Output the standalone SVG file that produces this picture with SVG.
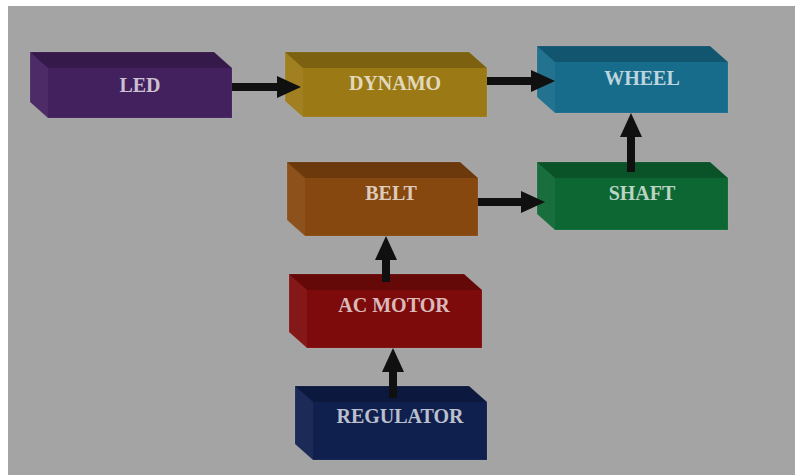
<svg xmlns="http://www.w3.org/2000/svg" width="795" height="475" viewBox="0 0 795 475">
<defs>
<style>
.top{fill:#000;opacity:0.2}
.side{fill:#fff;opacity:0.05}
.edge{fill:none;stroke:#fff;stroke-opacity:0.08;stroke-width:1}
.lbl{font-family:"Liberation Serif","Times New Roman",serif;font-weight:bold;font-size:20px;fill:#fff;fill-opacity:0.72;text-anchor:middle}
.conn{stroke:#101010;stroke-width:8;fill:none;marker-end:url(#ah)}
</style>
<marker id="ah" markerUnits="userSpaceOnUse" markerWidth="24" markerHeight="24" refX="0" refY="12" orient="auto" viewBox="0 0 24 24">
<path d="M0,1 L24,12 L0,23 Z" fill="#101010"/>
</marker>
</defs>
<rect x="0" y="0" width="795" height="475" fill="#ffffff"/>
<rect x="8" y="6" width="787" height="469" fill="#a4a4a4"/>

<g id="led">
<polygon points="30,52 214,52 232,68 232,118 48,118 30,102" fill="#43205e"/>
<polygon class="top" points="30,52 214,52 232,68 48,68"/>
<polygon class="side" points="30,52 48,68 48,118 30,102"/>
<polygon class="edge" points="30,52 214,52 232,68 232,118 48,118 30,102"/>
<text class="lbl" x="140" y="92">LED</text>
</g>

<g id="dynamo">
<polygon points="285,52 469,52 487,68 487,117 303,117 285,101" fill="#9b7a15"/>
<polygon class="top" points="285,52 469,52 487,68 303,68"/>
<polygon class="side" points="285,52 303,68 303,117 285,101"/>
<polygon class="edge" points="285,52 469,52 487,68 487,117 303,117 285,101"/>
<text class="lbl" x="395" y="90">DYNAMO</text>
</g>

<g id="wheel">
<polygon points="537,46 710,46 728,62 728,113 555,113 537,97" fill="#176b8b"/>
<polygon class="top" points="537,46 710,46 728,62 555,62"/>
<polygon class="side" points="537,46 555,62 555,113 537,97"/>
<polygon class="edge" points="537,46 710,46 728,62 728,113 555,113 537,97"/>
<text class="lbl" x="642" y="85">WHEEL</text>
</g>

<g id="belt">
<polygon points="287,162 460,162 478,178 478,236 305,236 287,220" fill="#874810"/>
<polygon class="top" points="287,162 460,162 478,178 305,178"/>
<polygon class="side" points="287,162 305,178 305,236 287,220"/>
<polygon class="edge" points="287,162 460,162 478,178 478,236 305,236 287,220"/>
<text class="lbl" x="391" y="200">BELT</text>
</g>

<g id="shaft">
<polygon points="537,162 710,162 728,178 728,230 555,230 537,214" fill="#0d6733"/>
<polygon class="top" points="537,162 710,162 728,178 555,178"/>
<polygon class="side" points="537,162 555,178 555,230 537,214"/>
<polygon class="edge" points="537,162 710,162 728,178 728,230 555,230 537,214"/>
<text class="lbl" x="642" y="200">SHAFT</text>
</g>

<g id="ac-motor">
<polygon points="289,274 464,274 482,290 482,348 307,348 289,332" fill="#7e0b0b"/>
<polygon class="top" points="289,274 464,274 482,290 307,290"/>
<polygon class="side" points="289,274 307,290 307,348 289,332"/>
<polygon class="edge" points="289,274 464,274 482,290 482,348 307,348 289,332"/>
<text class="lbl" x="394" y="312">AC MOTOR</text>
</g>

<g id="regulator">
<polygon points="295,386 469,386 487,402 487,460 313,460 295,444" fill="#0f1f4e"/>
<polygon class="top" points="295,386 469,386 487,402 313,402"/>
<polygon class="side" points="295,386 313,402 313,460 295,444"/>
<polygon class="edge" points="295,386 469,386 487,402 487,460 313,460 295,444"/>
<text class="lbl" x="400" y="423">REGULATOR</text>
</g>

<g id="connectors">
<line class="conn" x1="232" y1="87" x2="277" y2="87"/>
<line class="conn" x1="487" y1="81" x2="531" y2="81"/>
<line class="conn" x1="478" y1="202" x2="521" y2="202"/>
<line class="conn" x1="631" y1="172" x2="631" y2="137"/>
<line class="conn" x1="386" y1="282" x2="386" y2="260"/>
<line class="conn" x1="393" y1="398" x2="393" y2="372"/>
</g>
</svg>
